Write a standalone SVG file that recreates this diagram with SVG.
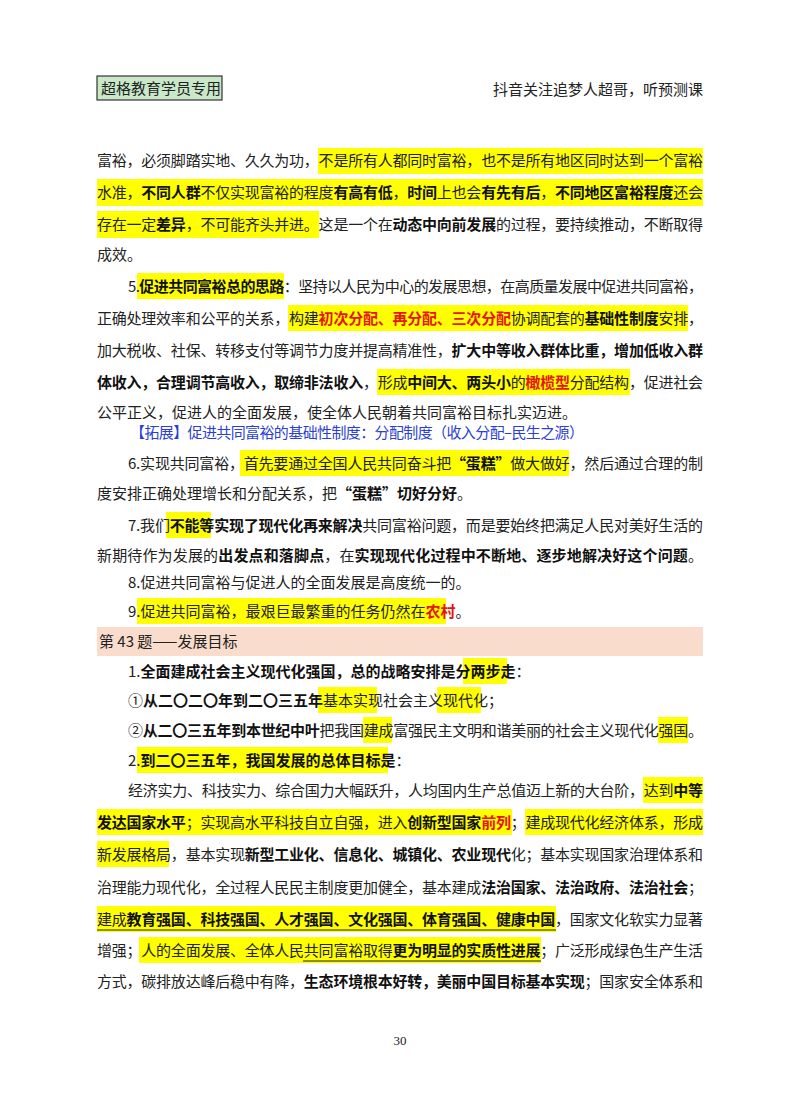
<svg xmlns="http://www.w3.org/2000/svg" width="800" height="1114" viewBox="0 0 800 1114">
<style>
text{font-family:"Noto Sans CJK SC","Liberation Serif",sans-serif;font-size:15px;fill:#222}
.b{font-weight:bold;fill:#111}
.r{fill:#e8140c;font-weight:bold}
.rn{fill:#e8140c}
.h{fill:#ffff00}
.u{stroke:#222;stroke-width:1.2}
.blue{fill:#2b3fd4}
</style>
<rect width="800" height="1114" fill="#fff"/>
<g id="header">
<rect x="97" y="76" width="125" height="24" fill="#c8e8c8" stroke="#333" stroke-width="1.2"/>
<text x="101" y="94">超格教育学员专用</text>
<text x="703" y="95" text-anchor="end">抖音关注追梦人超哥，听预测课</text>
</g>
<g id="highlights">
<rect class="h" x="318" y="148" width="385" height="26"/>
<rect class="h" x="97" y="179" width="606" height="27"/>
<rect class="h" x="97" y="211" width="222" height="27"/>
<rect class="h" x="137" y="273" width="147" height="26"/>
<rect class="h" x="288" y="305" width="400" height="26"/>
<rect class="h" x="377" y="369" width="253" height="26"/>
<rect class="h" x="240" y="450" width="329" height="26"/>
<rect class="h" x="166" y="512" width="45" height="26"/>
<rect class="h" x="137" y="598" width="309" height="26"/>
<rect class="h" x="463" y="658" width="44" height="26"/>
<rect class="h" x="318" y="687" width="59" height="26"/>
<rect class="h" x="437" y="687" width="44" height="26"/>
<rect class="h" x="363" y="717" width="29" height="26"/>
<rect class="h" x="658" y="717" width="30" height="26"/>
<rect class="h" x="137" y="747" width="251" height="26"/>
<rect class="h" x="643" y="777" width="60" height="26"/>
<rect class="h" x="97" y="809" width="415" height="26"/>
<rect class="h" x="525" y="809" width="178" height="26"/>
<rect class="h" x="97" y="841" width="72" height="26"/>
<rect class="h" x="97" y="906" width="459" height="26"/>
<rect class="h" x="139" y="937" width="402" height="26"/>
</g>
<rect id="banner" x="97" y="627" width="606" height="29" fill="#f9dccb"/>
<g id="body">
<text x="97" y="166" textLength="606" lengthAdjust="spacing">富裕，必须脚踏实地、久久为功，不是所有人都同时富裕，也不是所有地区同时达到一个富裕</text>
<text x="97" y="198" textLength="606" lengthAdjust="spacing">水准，<tspan class="b">不同人群</tspan>不仅实现富裕的程度<tspan class="b">有高有低</tspan>，<tspan class="b">时间</tspan>上也会<tspan class="b">有先有后</tspan>，<tspan class="b">不同地区富裕程度</tspan>还会</text>
<text x="97" y="230" textLength="606" lengthAdjust="spacing">存在一定<tspan class="b">差异</tspan>，不可能齐头并进。这是一个在<tspan class="b">动态中向前发展</tspan>的过程，要持续推动，不断取得</text>
<text x="97" y="260">成效。</text>
<text x="128" y="292" textLength="575" lengthAdjust="spacing">5.<tspan class="b">促进共同富裕总的思路</tspan>：坚持以人民为中心的发展思想，在高质量发展中促进共同富裕，</text>
<text x="97" y="324" textLength="606" lengthAdjust="spacing">正确处理效率和公平的关系，构建<tspan class="r">初次分配、再分配、三次分配</tspan>协调配套的<tspan class="b">基础性制度</tspan>安排，</text>
<text x="97" y="356" textLength="606" lengthAdjust="spacing">加大税收、社保、转移支付等调节力度并提高精准性，<tspan class="b">扩大中等收入群体比重，增加低收入群</tspan></text>
<text x="97" y="388" textLength="606" lengthAdjust="spacing"><tspan class="b">体收入，合理调节高收入，取缔非法收入</tspan>，形成<tspan class="b">中间大、两头小</tspan>的<tspan class="r">橄榄型</tspan>分配结构，促进社会</text>
<text x="97" y="418">公平正义，促进人的全面发展，使全体人民朝着共同富裕目标扎实迈进。</text>
<text x="130" y="438" class="blue" textLength="454" lengthAdjust="spacing">【拓展】促进共同富裕的基础性制度：分配制度（收入分配–民生之源）</text>
<text x="128" y="469" textLength="575" lengthAdjust="spacing">6.实现共同富裕，首先要通过全国人民共同奋斗把<tspan class="b">“蛋糕”</tspan>做大做好，然后通过合理的制</text>
<text x="97" y="499">度安排正确处理增长和分配关系，把<tspan class="b">“蛋糕”切好分好</tspan>。</text>
<text x="128" y="531" textLength="575" lengthAdjust="spacing">7.我们<tspan class="b">不能等实现了现代化再来解决</tspan>共同富裕问题，而是要始终把满足人民对美好生活的</text>
<text x="97" y="561" textLength="606" lengthAdjust="spacing">新期待作为发展的<tspan class="b">出发点和落脚点</tspan>，在<tspan class="b">实现现代化过程中不断地、逐步地解决好这个问题</tspan>。</text>
<text x="128" y="588">8.促进共同富裕与促进人的全面发展是高度统一的。</text>
<text x="128" y="617">9.促进共同富裕，最艰巨最繁重的任务仍然在<tspan class="r">农村</tspan>。</text>
<text x="99" y="647">第 43 题——发展目标</text>
<text x="128" y="677">1.<tspan class="b">全面建成社会主义现代化强国，总的战略安排是分两步走</tspan>：</text>
<text x="128" y="706">①<tspan class="b">从二〇二〇年到二〇三五年</tspan>基本实现社会主义现代化；</text>
<text x="128" y="736" textLength="575" lengthAdjust="spacing">②<tspan class="b">从二〇三五年到本世纪中叶</tspan>把我国建成富强民主文明和谐美丽的社会主义现代化强国。</text>
<text x="128" y="766">2.<tspan class="b">到二〇三五年，我国发展的总体目标是</tspan>：</text>
<text x="128" y="796" textLength="575" lengthAdjust="spacing">经济实力、科技实力、综合国力大幅跃升，人均国内生产总值迈上新的大台阶，达到<tspan class="b">中等</tspan></text>
<text x="97" y="828" textLength="606" lengthAdjust="spacing"><tspan class="b">发达国家水平</tspan>；实现高水平科技自立自强，进入<tspan class="b">创新型国家</tspan><tspan class="r">前列</tspan>；建成现代化经济体系，形成</text>
<text x="97" y="860" textLength="606" lengthAdjust="spacing">新发展格局，基本实现<tspan class="b">新型工业化、信息化、城镇化、农业现代</tspan>化；基本实现国家治理体系和</text>
<text x="97" y="893" textLength="606" lengthAdjust="spacing">治理能力现代化，全过程人民民主制度更加健全，基本建成<tspan class="b">法治国家、法治政府、法治社会</tspan>；</text>
<text x="97" y="925" textLength="606" lengthAdjust="spacing">建成<tspan class="b">教育强国、科技强国、人才强国、文化强国、体育强国、健康中国</tspan>，国家文化软实力显著</text>
<text x="97" y="956" textLength="606" lengthAdjust="spacing">增强；人的全面发展、全体人民共同富裕取得<tspan class="b">更为明显的实质性进展</tspan>；广泛形成绿色生产生活</text>
<text x="97" y="987" textLength="606" lengthAdjust="spacing">方式，碳排放达峰后稳中有降，<tspan class="b">生态环境根本好转，美丽中国目标基本实现</tspan>；国家安全体系和</text>
</g>
<g id="underlines">
<line class="u" x1="97" y1="930" x2="556" y2="930"/>
<line class="u" x1="303" y1="961" x2="541" y2="961"/>
</g>
<text x="400" y="1045" text-anchor="middle" style="font-family:'Liberation Serif',serif;font-size:13px">30</text>
</svg>
